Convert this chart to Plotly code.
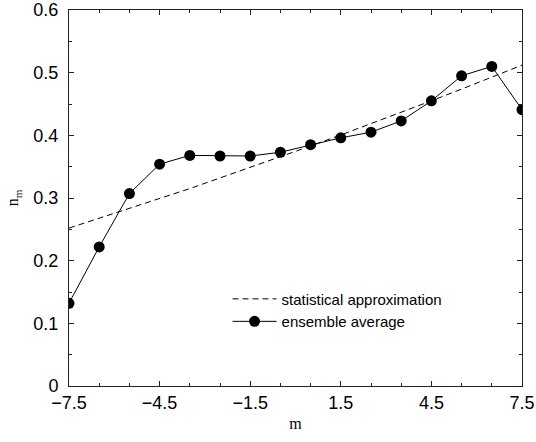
import plotly.graph_objects as go

m_vals = [-7.5, -6.5, -5.5, -4.5, -3.5, -2.5, -1.5, -0.5, 0.5, 1.5, 2.5, 3.5, 4.5, 5.5, 6.5, 7.5]
ensemble_avg = [0.132, 0.222, 0.307, 0.354, 0.368, 0.367, 0.367, 0.373, 0.385, 0.396, 0.405, 0.423, 0.455, 0.495, 0.510, 0.441]
stat_approx = [0.252, 0.2675, 0.283, 0.299, 0.315, 0.332, 0.3486, 0.3657, 0.383, 0.4006, 0.4185, 0.4367, 0.4551, 0.4738, 0.4928, 0.512]

x_ticks = [-7.5, -4.5, -1.5, 1.5, 4.5, 7.5]
x_tick_labels = ["\u22127.5", "\u22124.5", "\u22121.5", "1.5", "4.5", "7.5"]
y_ticks = [0, 0.1, 0.2, 0.3, 0.4, 0.5, 0.6]
y_tick_labels = ["0", "0.1", "0.2", "0.3", "0.4", "0.5", "0.6"]

fig = go.Figure()
fig.add_trace(go.Scatter(
    x=m_vals, y=stat_approx, mode="lines", name="statistical approximation",
    line=dict(color="black", width=1, dash="6px,4px")))
fig.add_trace(go.Scatter(
    x=m_vals, y=ensemble_avg, mode="lines+markers", name="ensemble average",
    line=dict(color="black", width=1),
    marker=dict(color="black", size=11)))

axis_common = dict(
    showline=True, linecolor="#222", linewidth=1, mirror="ticks",
    ticks="inside", ticklen=5, tickwidth=1, tickcolor="#222",
    showgrid=False, zeroline=False, automargin=False,
    tickfont=dict(family="Liberation Sans, Arial, sans-serif", size=18, color="black"),
)

fig.update_layout(
    width=536, height=442,
    margin=dict(l=69, r=14, t=10, b=56, autoexpand=False),
    paper_bgcolor="white", plot_bgcolor="white",
    showlegend=True,
    legend=dict(x=0.35, y=0.275, xanchor="left", yanchor="top",
                bgcolor="rgba(0,0,0,0)", borderwidth=0,
                font=dict(family="Liberation Sans, Arial, sans-serif", size=15, color="black"),
                itemwidth=44),
    xaxis=dict(range=[-7.5, 7.5], tickvals=x_ticks, ticktext=x_tick_labels,
               minor=dict(dtick=1, tick0=-7.5, ticks="inside", ticklen=3, tickcolor="#222"),
               ticklabelstandoff=0,
               title=dict(text="m", font=dict(family="Liberation Serif, Times New Roman, serif", size=16, color="black"), standoff=6),
               **axis_common),
    yaxis=dict(range=[0, 0.6], tickvals=y_ticks, ticktext=y_tick_labels,
               minor=dict(dtick=0.05, tick0=0, ticks="inside", ticklen=3, tickcolor="#222"),
               ticklabelstandoff=6,
               title=dict(text="n<sub>m</sub>", font=dict(family="Liberation Serif, Times New Roman, serif", size=16, color="black"), standoff=10),
               **axis_common),
)

fig.write_html("out.html")
